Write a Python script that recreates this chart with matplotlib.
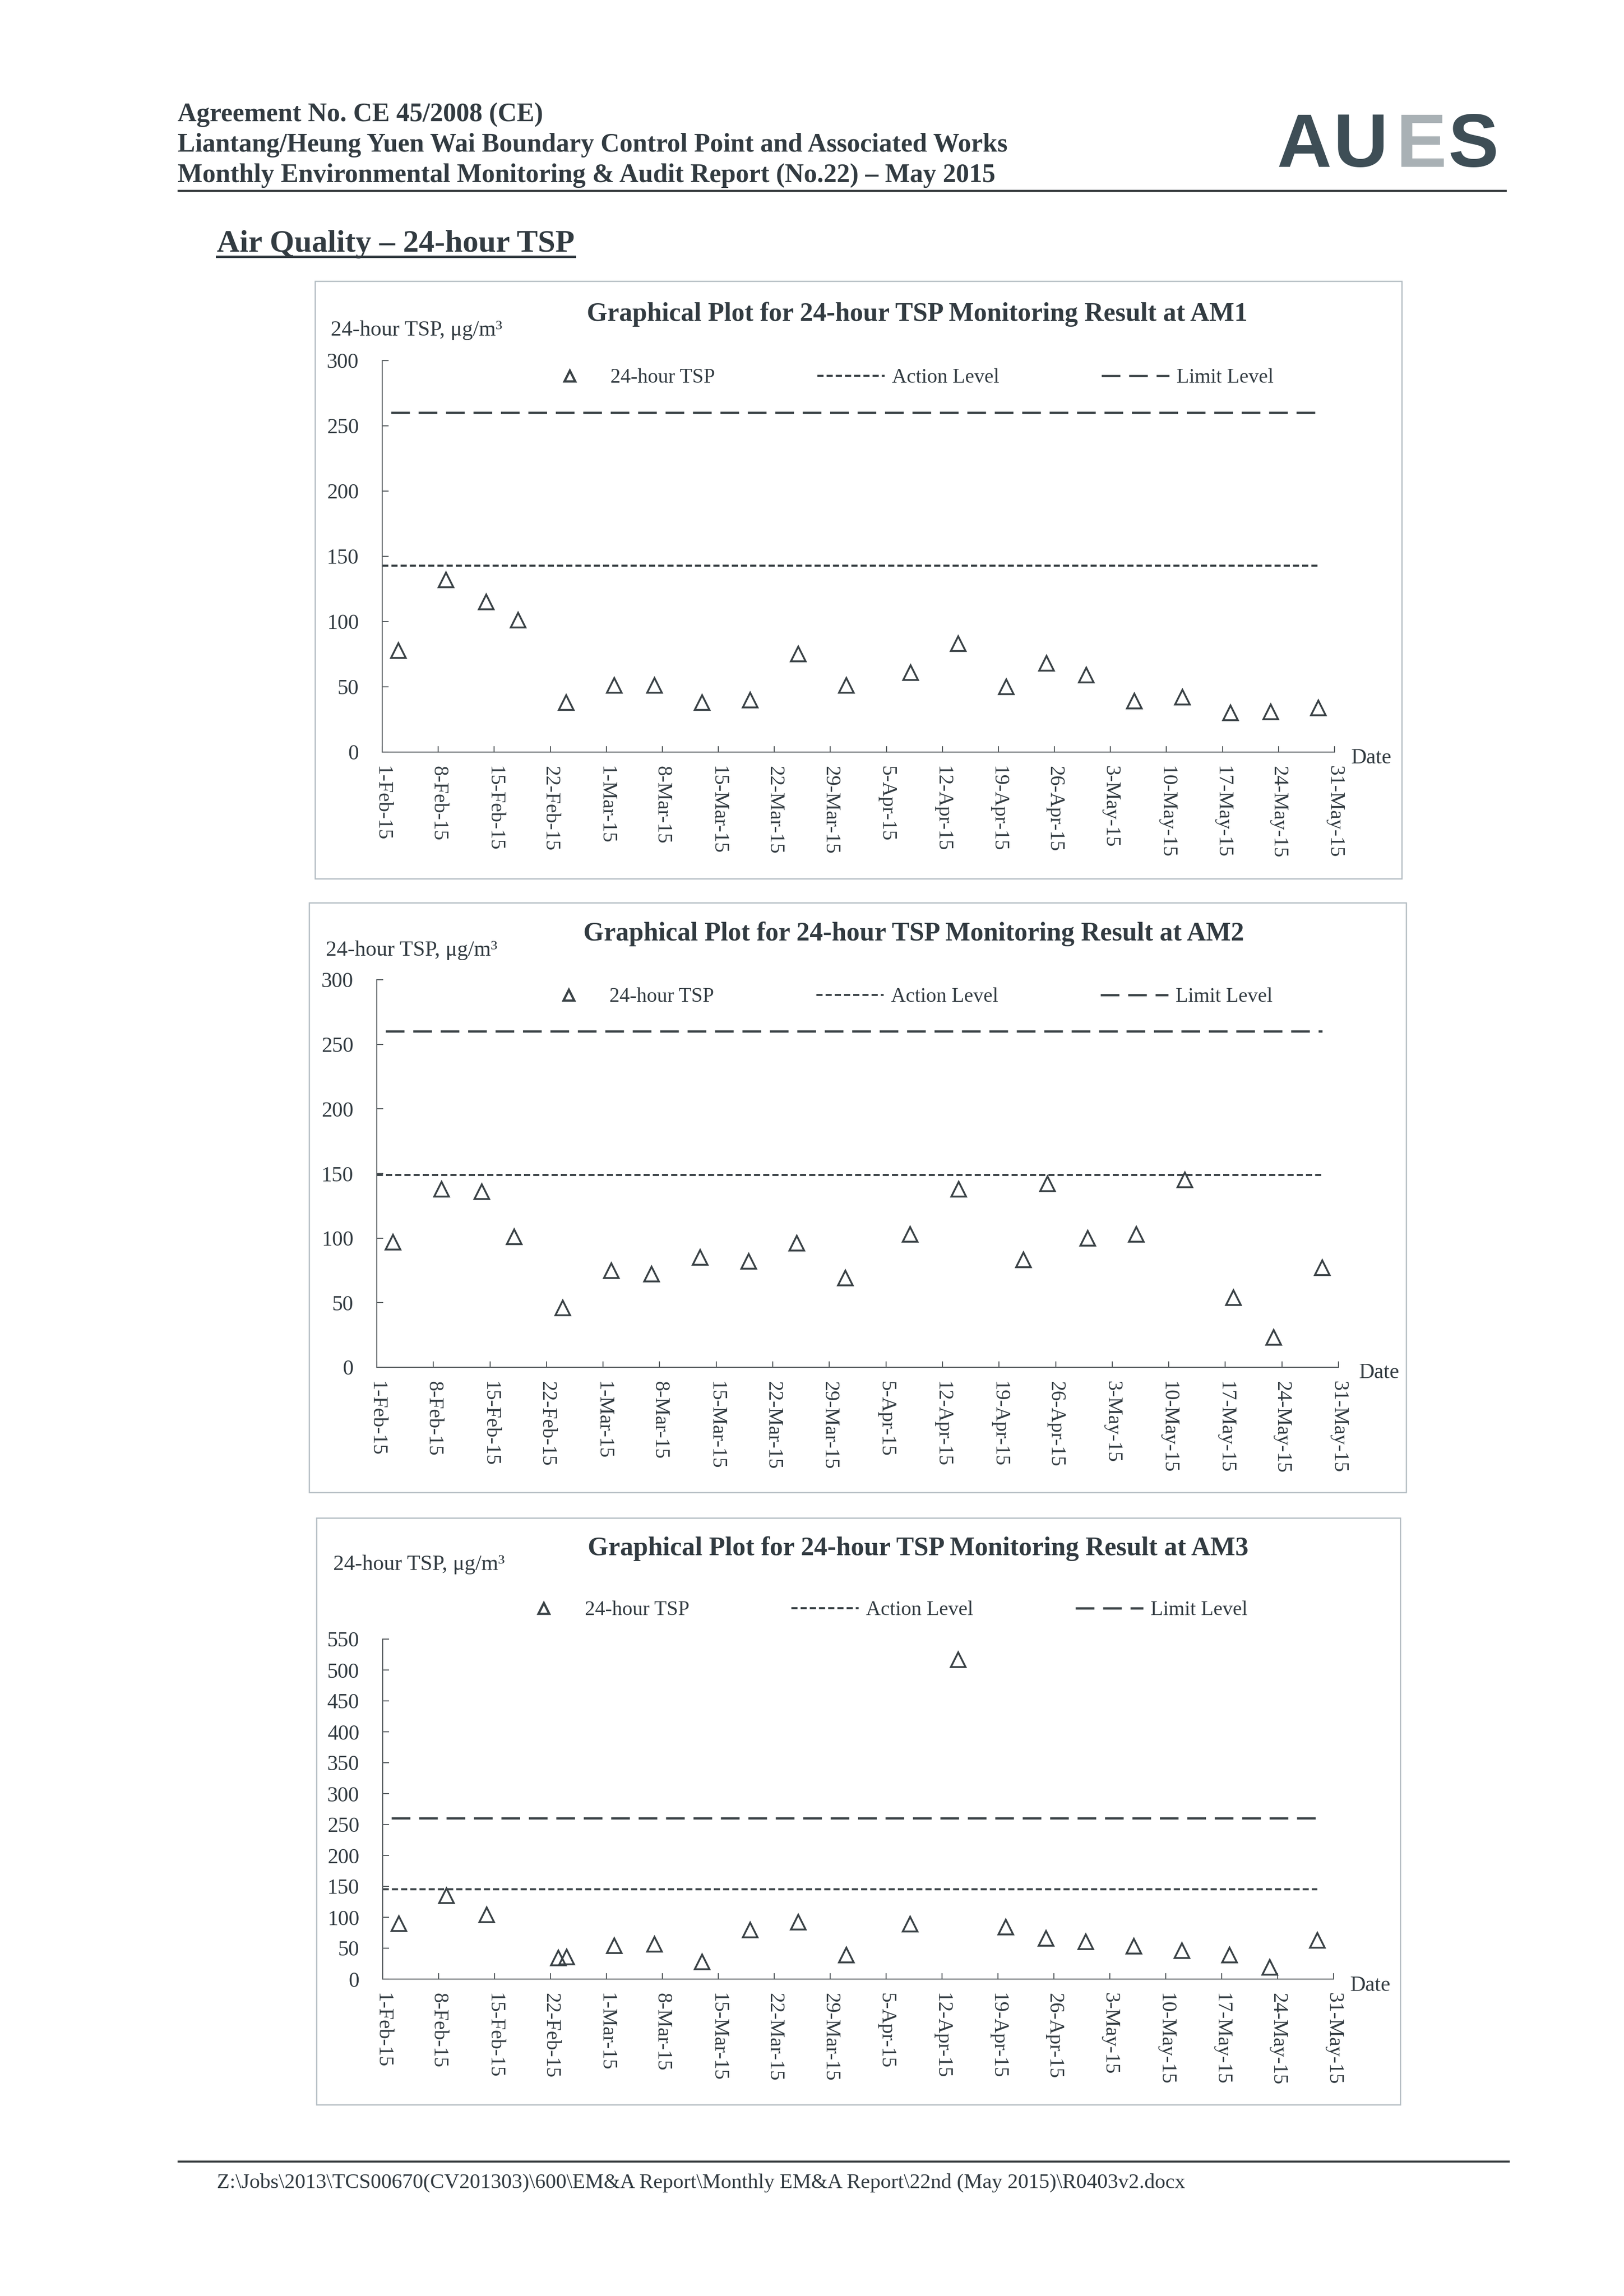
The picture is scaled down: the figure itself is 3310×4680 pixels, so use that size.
import matplotlib.pyplot as plt
import pandas as pd
from matplotlib.lines import Line2D
from matplotlib.patches import Rectangle

W, H, DPI = 3310, 4680, 300

# ---- values ----
am1_dates = ["2015-02-03", "2015-02-09", "2015-02-14", "2015-02-18", "2015-02-24",
             "2015-03-02", "2015-03-07", "2015-03-13", "2015-03-19", "2015-03-25",
             "2015-03-31", "2015-04-08", "2015-04-14", "2015-04-20", "2015-04-25",
             "2015-04-30", "2015-05-06", "2015-05-12", "2015-05-18", "2015-05-23",
             "2015-05-29"]
am1_tsp = [78, 132, 115, 101, 38, 51, 51, 38, 40, 75, 51, 61, 83, 50, 68, 59, 39, 42, 30, 31, 34]

am2_dates = ["2015-02-03", "2015-02-09", "2015-02-14", "2015-02-18", "2015-02-24",
             "2015-03-02", "2015-03-07", "2015-03-13", "2015-03-19", "2015-03-25",
             "2015-03-31", "2015-04-08", "2015-04-14", "2015-04-22", "2015-04-25",
             "2015-04-30", "2015-05-06", "2015-05-12", "2015-05-18", "2015-05-23",
             "2015-05-29"]
am2_tsp = [97, 138, 136, 101, 46, 75, 72, 85, 82, 96, 69, 103, 138, 83, 142, 100, 103, 145, 54, 23, 77]

am3_dates = ["2015-02-03", "2015-02-09", "2015-02-14", "2015-02-23", "2015-02-24",
             "2015-03-02", "2015-03-07", "2015-03-13", "2015-03-19", "2015-03-25",
             "2015-03-31", "2015-04-08", "2015-04-14", "2015-04-20", "2015-04-25",
             "2015-04-30", "2015-05-06", "2015-05-12", "2015-05-18", "2015-05-23",
             "2015-05-29"]
am3_tsp = [90, 135, 104, 34, 36, 54, 56, 28, 79, 92, 39, 89, 517, 84, 66, 60, 53, 46, 39, 19, 63]

stations = ["AM1", "AM2", "AM3"]
action_levels = [143, 149, 145]
limit_level = 260
y_max = [300, 300, 550]
level_start, level_end = "2015-02-01", "2015-05-29"
tick_dates = pd.date_range("2015-02-01", "2015-05-31", freq="7D")
tick_labels = [f"{d.day}-{d.strftime('%b-%y')}" for d in tick_dates]

header_lines = ["Agreement No. CE 45/2008 (CE)",
                "Liantang/Heung Yuen Wai Boundary Control Point and Associated Works",
                "Monthly Environmental Monitoring & Audit Report (No.22) \u2013 May 2015"]
footer = "Z:\\Jobs\\2013\\TCS00670(CV201303)\\600\\EM&A Report\\Monthly EM&A Report\\22nd (May 2015)\\R0403v2.docx"

# ---- page layout (pixels on the 3310 x 4680 page) ----
# box: left, top, right, bottom ; axes: left, top, right, bottom
boxes = [(642, 573, 2857, 1791), (630, 1840, 2866, 3042), (645, 3094, 2854, 4290)]
axes_px = [(779, 735, 2720, 1533), (768, 1997, 2728, 2787), (780, 3341, 2718, 4034)]
title_xy = [(1869, 641), (1862, 1904), (1871, 3157)]
ylab_xy = [(674, 673), (664, 1937), (679, 3189)]
date_xy = [(2754, 1545), (2770, 2798), (2752, 4047)]
legend_xy = [(1092, 770), (1090, 2032), (1039, 3282)]

TXT = "#323b41"
LN = "#3a4246"
SERIF = "Liberation Serif"

plt.rcParams["font.family"] = SERIF

fig = plt.figure(figsize=(W / DPI, H / DPI), dpi=DPI)
fig.patch.set_facecolor("white")
renderer = fig.canvas.get_renderer()


def fx(x):
    return x / W


def fy(y):
    return 1 - y / H


def fit_text(t, width_px):
    w = t.get_window_extent(renderer).width
    t.set_fontsize(t.get_fontsize() * width_px / w)


# header
widths = [745, 1697, 1670]
for i, (line, wpx) in enumerate(zip(header_lines, widths)):
    t = fig.text(fx(362), fy(247 + 62 * i), line, fontsize=12, weight="bold",
                 color=TXT, ha="left", va="baseline")
    fit_text(t, wpx)
fig.add_artist(Line2D([fx(364), fx(3069)], [fy(389), fy(389)], color="#3a3f42", lw=1.0))

# AUES logo, letter by letter for the grey E
logo = [("A", 2602, "#3e4e56"), ("U", 2718, "#3e4e56"), ("E", 2846, "#a9b1b5"), ("S", 2952, "#3e4e56")]
for ch, x, col in logo:
    fig.text(fx(x), fy(340), ch, fontsize=37, weight="bold", family="Liberation Sans",
             color=col, ha="left", va="baseline")

# section heading
t = fig.text(fx(442), fy(513), "Air Quality \u2013 24-hour TSP", fontsize=15, weight="bold",
             color=TXT, ha="left", va="baseline")
fit_text(t, 729)
fig.add_artist(Line2D([fx(442), fx(1171)], [fy(523), fy(523)], color=TXT, lw=1.2))

series = [(am1_dates, am1_tsp), (am2_dates, am2_tsp), (am3_dates, am3_tsp)]

for k in range(3):
    bl, bt, br, bb = boxes[k]
    fig.add_artist(Rectangle((fx(bl), fy(bb)), (br - bl) / W, (bb - bt) / H,
                             transform=fig.transFigure, fill=False, ec="#b3bcc2", lw=0.6))

    al, at, ar, ab = axes_px[k]
    ax = fig.add_axes([fx(al), fy(ab), (ar - al) / W, (ab - at) / H])
    ax.set_facecolor("none")

    dates = pd.to_datetime(series[k][0])
    ax.plot(dates, series[k][1], ls="none", marker="^", ms=7, mfc="none", mec=LN, mew=0.9,
            clip_on=False, zorder=3)
    lv_x = pd.to_datetime([level_start, level_end])
    ax.plot(lv_x, [action_levels[k]] * 2, color=LN, lw=1.0, ls=(0, (3.0, 1.5)))
    ax.plot(lv_x, [limit_level] * 2, color=LN, lw=1.1, ls=(8.3, (8.3, 3.9)))

    ax.set_xlim(tick_dates[0], tick_dates[-1])
    ax.set_ylim(0, y_max[k])
    ax.set_xticks(tick_dates)
    ax.set_xticklabels(tick_labels, rotation=-90, ha="center", va="top", fontsize=10, color=TXT)
    ax.set_yticks(range(0, y_max[k] + 1, 50))
    ax.tick_params(axis="y", labelsize=10.5, labelcolor=TXT)
    ax.tick_params(direction="in", length=3, width=0.5, color="#555b5e")
    ax.tick_params(axis="y", pad=11.5)
    ax.tick_params(axis="x", pad=6.8)
    for s in ["top", "right"]:
        ax.spines[s].set_visible(False)
    for s in ["left", "bottom"]:
        ax.spines[s].set_color("#555b5e")
        ax.spines[s].set_linewidth(0.5)

    handles = [
        Line2D([], [], ls="none", marker="^", ms=7, mfc="none", mec=LN, mew=1.1),
        Line2D([], [], color=LN, lw=1.0, ls=(0, (3.0, 1.5))),
        Line2D([], [], color=LN, lw=1.1, ls=(0, (8.3, 3.9))),
    ]
    ax.legend(handles, ["24-hour TSP", "Action Level", "Limit Level"], ncol=3, frameon=False,
              loc="center left", bbox_to_anchor=(fx(legend_xy[k][0]), fy(legend_xy[k][1])),
              bbox_transform=fig.transFigure, borderpad=0, borderaxespad=0,
              handlelength=3.3, handletextpad=0.36, columnspacing=5.0, markerscale=0.75,
              prop={"family": SERIF, "size": 10}, labelcolor=TXT)

    t = fig.text(fx(title_xy[k][0]), fy(title_xy[k][1]),
                 f"Graphical Plot for 24-hour TSP Monitoring Result at {stations[k]}",
                 fontsize=12, weight="bold", color=TXT, ha="center", va="center")
    fit_text(t, 1348)
    t = fig.text(fx(ylab_xy[k][0]), fy(ylab_xy[k][1]), "24-hour TSP, \u03bcg/m\u00b3",
                 fontsize=10, color=TXT, ha="left", va="center")
    fit_text(t, 349)
    fig.text(fx(date_xy[k][0]), fy(date_xy[k][1]), "Date", fontsize=10.5, color=TXT,
             ha="left", va="center")

# footer
fig.add_artist(Line2D([fx(364), fx(3075)], [fy(4406), fy(4406)], color="#3a3f42", lw=1.0))
t = fig.text(fx(442), fy(4460), footer, fontsize=10, color=TXT, ha="left", va="baseline")
fit_text(t, 1973)

fig.savefig("out.png", dpi=DPI, facecolor="white")
